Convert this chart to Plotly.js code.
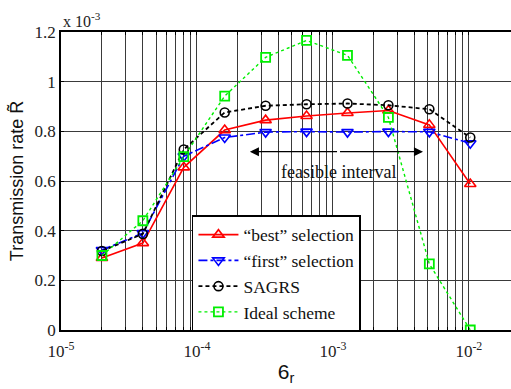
<!DOCTYPE html>
<html>
<head>
<meta charset="utf-8">
<script src="https://cdn.plot.ly/plotly-3.0.1.min.js"></script>
<style>html,body{margin:0;padding:0;overflow:hidden;background:#fff;}</style>
</head>
<body>
<div id="chart" style="width:511px;height:389px;"></div>
<script>
// x values (sigma_r)
const xVals = [2e-5, 4e-5, 8e-5, 1.6e-4, 3.2e-4, 6.4e-4, 1.28e-3, 2.56e-3, 5.12e-3, 1.024e-2];
// transmission rate, in units of 1e-3
const bestSel  = [0.29, 0.35, 0.655, 0.805, 0.845, 0.862, 0.874, 0.884, 0.826, 0.588];
const firstSel = [0.322, 0.39, 0.70, 0.775, 0.797, 0.799, 0.797, 0.799, 0.798, 0.752];
const sagrs    = [0.318, 0.387, 0.727, 0.876, 0.903, 0.909, 0.912, 0.905, 0.889, 0.775];
const ideal    = [0.300, 0.440, 0.698, 0.942, 1.098, 1.166, 1.106, 0.856, 0.266, 0.0];
const seriesNames = ['\u201cbest\u201d selection', '\u201cfirst\u201d selection', 'SAGRS', 'Ideal scheme'];
const yTicks = [0, 0.2, 0.4, 0.6, 0.8, 1, 1.2];
const yTickText = ['0', '0.2', '0.4', '0.6', '0.8', '1', '1.2'];

// x tick values: every 1..9 x decade (MATLAB-style minor grid)
const xTickVals = [], xTickText = [];
for (let d = -5; d <= -3; d++) {
  for (let k = 1; k <= 9; k++) {
    xTickVals.push(k * Math.pow(10, d));
    xTickText.push(k === 1 ? '10<sup>' + d + '</sup>' : '');
  }
}
xTickVals.push(1e-2); xTickText.push('10<sup>-2</sup>');

const serif = 'Liberation Serif, Times New Roman, serif';
const sans = 'Liberation Sans, Arial, sans-serif';

const traces = [
  {x: xVals, y: bestSel, name: seriesNames[0], mode: 'lines+markers',
   line: {color: '#ff0000', width: 1.6, dash: 'solid'},
   marker: {symbol: 'triangle-up-open', size: 10, color: '#ff0000', line: {width: 1.6}}},
  {x: xVals, y: firstSel, name: seriesNames[1], mode: 'lines+markers',
   line: {color: '#0000ff', width: 1.6, dash: 'dashdot'},
   marker: {symbol: 'triangle-down-open', size: 10, color: '#0000ff', line: {width: 1.6}}},
  {x: xVals, y: sagrs, name: seriesNames[2], mode: 'lines+markers',
   line: {color: '#000000', width: 1.8, dash: '4px,3px'},
   marker: {symbol: 'circle-open', size: 9, color: '#000000', line: {width: 1.6}}},
  {x: xVals, y: ideal, name: seriesNames[3], mode: 'lines+markers',
   line: {color: '#00ee00', width: 1.4, dash: 'dot'},
   marker: {symbol: 'square-open', size: 9, color: '#00ee00', line: {width: 1.8}}}
];

const arrowY = 0.718;
const arrowMid = 1.1e-3;
const layout = {
  width: 511, height: 389,
  margin: {l: 61, r: 0, t: 32, b: 59},
  paper_bgcolor: '#ffffff', plot_bgcolor: '#ffffff',
  showlegend: true,
  xaxis: {
    type: 'log', range: [-5, -1.69],
    tickmode: 'array', tickvals: xTickVals, ticktext: xTickText,
    showgrid: true, gridcolor: '#3a3a3a', gridwidth: 1,
    zeroline: false,
    showline: true, linecolor: '#000', linewidth: 1.8, mirror: 'ticks',
    ticks: 'inside', ticklen: 3, tickcolor: '#000', ticklabelstandoff: 5,
    tickfont: {family: serif, size: 17, color: '#222'},
    title: {text: '6<sub>r</sub>', font: {family: sans, size: 21, color: '#111'}, standoff: 4}
  },
  yaxis: {
    range: [0, 1.2],
    tickmode: 'array', tickvals: yTicks, ticktext: yTickText,
    showgrid: true, gridcolor: '#3a3a3a', gridwidth: 1,
    zeroline: false,
    showline: true, linecolor: '#000', linewidth: 1.8, mirror: false,
    ticks: 'inside', ticklen: 3, tickcolor: '#000',
    tickfont: {family: serif, size: 17, color: '#222'},
    title: {text: 'Transmission rate R\u0303', font: {family: sans, size: 18, color: '#111'}, standoff: 6}
  },
  legend: {
    x: 0.291, y: 0.385, xanchor: 'left', yanchor: 'top',
    bgcolor: '#ffffff', bordercolor: '#000', borderwidth: 1.5,
    font: {family: serif, size: 17.5, color: '#111'},
    itemwidth: 40
  },
  annotations: [
    {xref: 'paper', yref: 'paper', x: 0, y: 1, xanchor: 'left', yanchor: 'bottom',
     text: 'x 10<sup>-3</sup>', showarrow: false, yshift: 0,
     font: {family: serif, size: 16, color: '#222'}},
    {xref: 'x', yref: 'y', x: Math.log10(2.45e-4), y: arrowY, ax: Math.log10(arrowMid), ay: arrowY,
     axref: 'x', ayref: 'y', text: '', showarrow: true, arrowhead: 2, arrowsize: 1.4, arrowwidth: 1.3, arrowcolor: '#000'},
    {xref: 'x', yref: 'y', x: Math.log10(4.6e-3), y: arrowY, ax: Math.log10(arrowMid), ay: arrowY,
     axref: 'x', ayref: 'y', text: '', showarrow: true, arrowhead: 2, arrowsize: 1.4, arrowwidth: 1.3, arrowcolor: '#000'},
    {xref: 'x', yref: 'y', x: Math.log10(arrowMid), y: 0.635, text: 'feasible interval', showarrow: false,
     font: {family: serif, size: 18, color: '#111'}}
  ]
};

Plotly.newPlot('chart', traces, layout, {staticPlot: true, displayModeBar: false});
</script>
</body>
</html>
